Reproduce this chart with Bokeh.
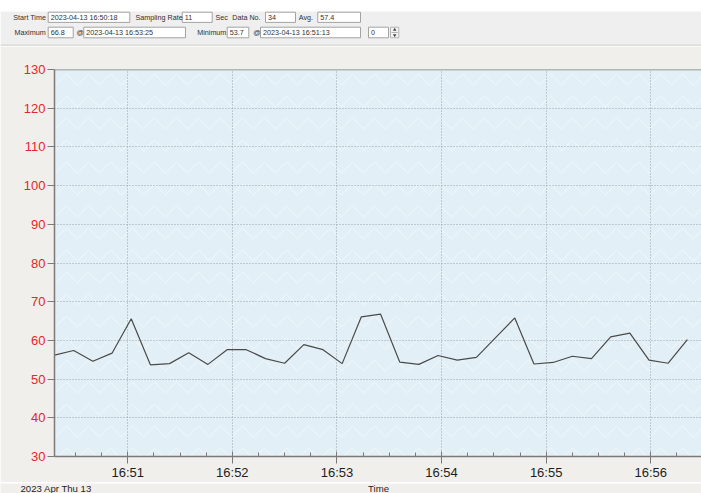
import pandas as pd
from bokeh.plotting import figure
from bokeh.models import (Range1d, FixedTicker, DatetimeTickFormatter, Span, BoxAnnotation)
from bokeh.layouts import column
from bokeh.core.properties import value
from bokeh.embed import file_html
from bokeh.resources import INLINE

# ---------------- data ----------------
start_time = "2023-04-13 16:50:18"
sampling_rate_s = 11
data_no = 34
avg_text = "57.4"
max_text = "66.8"
max_time = "2023-04-13 16:53:25"
min_text = "53.7"
min_time = "2023-04-13 16:51:13"
spin_text = "0"

values = [56.2, 57.4, 54.6, 56.7, 65.6, 53.7, 54.0, 56.8, 53.8, 57.6,
          57.6, 55.3, 54.1, 58.9, 57.6, 54.0, 66.1, 66.8, 54.4, 53.8,
          56.1, 54.9, 55.6, 60.7, 65.8, 53.9, 54.3, 55.9, 55.3, 60.9,
          61.9, 54.9, 54.1, 60.2]

y_ticks = [30, 40, 50, 60, 70, 80, 90, 100, 110, 120, 130]
x_tick_labels = ["16:51", "16:52", "16:53", "16:54", "16:55", "16:56"]
date_text = "2023 Apr Thu 13"
x_title = "Time"

# ---------------- styling ----------------
FONT = "Liberation Sans"
PAPER = "#f1efeb"
PANEL = "#efefef"
PLOT_BG = "#e2eff6"
RED = "#e5262d"
W = 701
HDR_H = 46
MAIN_H = 436
FOOT_TOP = HDR_H + MAIN_H
FOOT_H = 493 - FOOT_TOP

# ---------------- header panel ----------------
hdr = figure(width=W, height=HDR_H, x_range=Range1d(0, W), y_range=Range1d(HDR_H, 0),
             toolbar_location=None, output_backend="svg", min_border=0,
             x_axis_location=None, y_axis_location=None)
hdr.frame_align = False
hdr.outline_line_color = None
hdr.grid.visible = False
hdr.background_fill_color = "white"
hdr.border_fill_color = "white"

hdr.quad(left=[0], right=[W], top=[11], bottom=[44.5], fill_color=PANEL, line_color=None)
hdr.quad(left=[0], right=[W], top=[44.5], bottom=[HDR_H], fill_color=PAPER, line_color=None)
hdr.segment(x0=[0], y0=[44.6], x1=[W], y1=[44.6], line_color="#d2d2d2", line_width=1)

r1 = (11.7, 21.9)
r2 = (26.7, 37.3)
boxes = [
    (47.7, 129.3, r1, start_time),
    (181.7, 211.7, r1, str(sampling_rate_s)),
    (265.0, 295.0, r1, str(data_no)),
    (317.3, 360.0, r1, avg_text),
    (47.7, 72.7, r2, max_text),
    (83.3, 185.0, r2, max_time),
    (226.7, 248.3, r2, min_text),
    (260.0, 360.0, r2, min_time),
    (368.0, 388.0, r2, spin_text),
]
hdr.quad(left=[b[0] for b in boxes], right=[b[1] for b in boxes],
         top=[b[2][0] for b in boxes], bottom=[b[2][1] for b in boxes],
         fill_color="white", line_color="#a3a3a3", line_width=1)
hdr.text(x=[b[0] + 2.5 for b in boxes], y=[(b[2][0] + b[2][1]) / 2 for b in boxes],
         text=[b[3] for b in boxes], text_font=value(FONT), text_font_size="7.2px",
         text_color="#303030", text_baseline="middle", text_align="left")

labels = [
    ("Start Time", 12.7, r1), ("Sampling Rate", 135.0, r1), ("Sec", 215.0, r1),
    ("Data No.", 231.7, r1), ("Avg.", 298.3, r1),
    ("Maximum", 14.0, r2), ("@", 76.0, r2), ("Minimum", 196.7, r2), ("@", 252.7, r2),
]
hdr.text(x=[l[1] for l in labels], y=[(l[2][0] + l[2][1]) / 2 for l in labels],
         text=[l[0] for l in labels], text_font=value(FONT), text_font_size="7.2px",
         text_color="#303030", text_baseline="middle", text_align="left")

# spinner
hdr.quad(left=[390], right=[398.3], top=[26.7], bottom=[37.3], fill_color="#f4f4f4",
         line_color="#b5b5b5", line_width=1)
hdr.segment(x0=[391], y0=[32], x1=[397.3], y1=[32], line_color="#b5b5b5")
hdr.scatter(x=[394.2], y=[29.3], marker="triangle", size=3.5, fill_color="#444",
            line_color=None)
hdr.scatter(x=[394.2], y=[34.7], marker="inverted_triangle", size=3.5, fill_color="#444",
            line_color=None)

# ---------------- main chart ----------------
times = pd.date_range(start_time, periods=data_no, freq=f"{sampling_rate_s}s")
t0 = pd.Timestamp(start_time)
x_start = t0.to_pydatetime()
x_end = (t0 + pd.Timedelta(seconds=371.1)).to_pydatetime()

def ms(ts):
    return ts.value / 1e6

p = figure(width=W, height=MAIN_H, x_axis_type="datetime",
           x_range=Range1d(x_start, x_end), y_range=Range1d(30, 130),
           toolbar_location=None, output_backend="svg",
           min_border_left=54, min_border_right=0, min_border_top=23,
           min_border_bottom=MAIN_H - 23 - 388)
p.frame_align = False
p.background_fill_color = PLOT_BG
p.border_fill_color = PAPER
p.outline_line_color = None

tex = BoxAnnotation(level="image", fill_alpha=0, line_color=None,
                    hatch_pattern="horizontal_wave", hatch_color="white",
                    hatch_alpha=0.3, hatch_scale=22, hatch_weight=1.2)
p.add_layout(tex)

major = [ms(pd.Timestamp(f"2023-04-13 {t}")) for t in x_tick_labels]
minor = [ms(t) for t in pd.date_range("2023-04-13 16:50:15", "2023-04-13 16:56:30", freq="15s")]
p.xaxis.ticker = FixedTicker(ticks=major, minor_ticks=minor)
fmt = "%H:%M"
p.xaxis.formatter = DatetimeTickFormatter(seconds=fmt, minsec=fmt, minutes=fmt,
                                          hourmin=fmt, hours=fmt)
p.yaxis.ticker = FixedTicker(ticks=y_ticks, minor_ticks=[])

for ax in (p.xaxis, p.yaxis):
    ax.axis_line_color = "#7a7a7a"
    ax.axis_line_width = 1.5
    ax.major_tick_line_color = "#7a7a7a"
    ax.minor_tick_line_color = "#7a7a7a"
    ax.major_label_text_font = FONT
    ax.major_label_text_font_size = "13px"

p.xaxis.major_tick_in = 5
p.xaxis.major_tick_out = 7
p.xaxis.minor_tick_in = 4
p.xaxis.minor_tick_out = 0
p.xaxis.major_label_standoff = 1
p.xaxis.major_label_text_color = "#1e1e1e"

p.yaxis.major_tick_in = 0
p.yaxis.major_tick_out = 7
p.yaxis.major_label_standoff = 2
p.yaxis.major_label_text_color = RED

p.xgrid.grid_line_color = "#9aa5ad"
p.xgrid.grid_line_dash = "1 2"
p.ygrid.grid_line_color = "#9aa5ad"
p.ygrid.grid_line_dash = "1 2"

p.add_layout(Span(location=130, dimension="width", line_color="#7a7a7a", line_width=1.5))

p.line(x=times, y=values, line_color="#4a4a4a", line_width=1.2)

# ---------------- footer (date + axis title) ----------------
ftr = figure(width=W, height=FOOT_H, x_range=Range1d(0, W), y_range=Range1d(493, FOOT_TOP),
             toolbar_location=None, output_backend="svg", min_border=0,
             x_axis_location=None, y_axis_location=None)
ftr.frame_align = False
ftr.outline_line_color = None
ftr.grid.visible = False
ftr.background_fill_color = PAPER
ftr.border_fill_color = PAPER
ftr.text(x=[20, 378], y=[492.8, 492.8], text=[date_text, x_title],
         text_align=["left", "center"], text_baseline="bottom",
         text_font=value(FONT), text_font_size="9.6px", text_color="#1e1e1e")

layout = column(hdr, p, ftr, spacing=0)
open("out.html", "w").write(file_html(layout, INLINE))
